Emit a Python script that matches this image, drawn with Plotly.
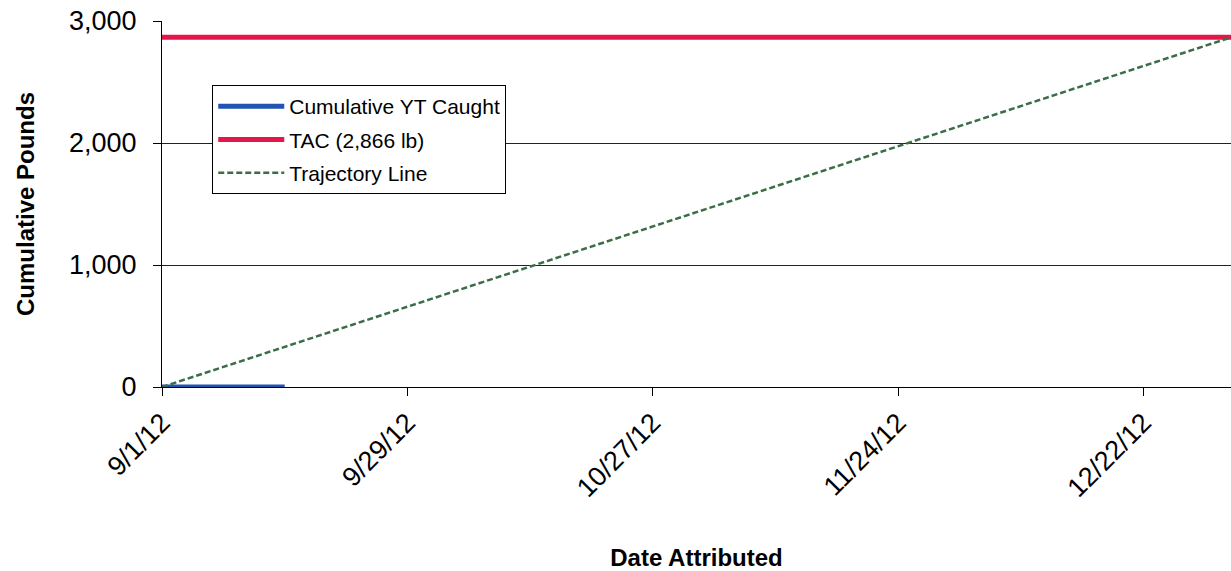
import plotly.graph_objects as go

# Data
caught_dates = ["2012-09-01", "2012-09-03", "2012-09-05", "2012-09-07", "2012-09-09",
                "2012-09-11", "2012-09-13", "2012-09-15"]
caught_values = [0, 0, 0, 0, 0, 0, 0, 0]

tac_dates = ["2012-09-01", "2013-01-01"]
tac_values = [2866, 2866]

traj_dates = ["2012-09-01", "2013-01-01"]
traj_values = [0, 2866]

tick_dates = ["2012-09-01", "2012-09-29", "2012-10-27", "2012-11-24", "2012-12-22"]
tick_labels = ["9/1/12", "9/29/12", "10/27/12", "11/24/12", "12/22/12"]

FONT = "Liberation Sans, Arial, sans-serif"

fig = go.Figure()
fig.add_trace(go.Scatter(x=caught_dates, y=caught_values, mode="lines",
                         name="Cumulative YT Caught", legendgroup="a",
                         line=dict(color="#2153B3", width=5)))
fig.add_trace(go.Scatter(x=tac_dates, y=tac_values, mode="lines",
                         name="TAC (2,866 lb)", legendgroup="b",
                         line=dict(color="#E5164C", width=5)))
fig.add_trace(go.Scatter(x=traj_dates, y=traj_values, mode="lines",
                         name="Trajectory Line", legendgroup="c",
                         line=dict(color="#3B6E47", width=2.5, dash="6px,3px")))

fig.update_layout(
    width=1231, height=571,
    margin=dict(l=162, r=0, t=21, b=184),
    paper_bgcolor="white", plot_bgcolor="white",
    font=dict(family=FONT, color="black"),
    showlegend=True,
    legend=dict(x=0.047, y=0.825, xanchor="left", yanchor="top",
                bgcolor="white", bordercolor="black", borderwidth=1,
                font=dict(size=21, family=FONT, color="black"),
                itemwidth=66, tracegroupgap=3),
    xaxis=dict(
        type="date",
        range=["2012-09-01", "2013-01-01"],
        tickvals=tick_dates, ticktext=tick_labels,
        tickangle=-45,
        tickfont=dict(size=27, family=FONT, color="black"),
        showgrid=False, zeroline=False,
        showline=True, linecolor="black", linewidth=1,
        ticks="outside", ticklen=8, tickcolor="black", tickwidth=1,
        title=dict(text="<b>Date Attributed</b>", font=dict(size=24, family=FONT, color="black"),
                   standoff=50),
        automargin=False,
    ),
    yaxis=dict(
        range=[0, 3000],
        tickvals=[0, 1000, 2000, 3000],
        tickformat=",",
        tickfont=dict(size=27, family=FONT, color="black"),
        ticklabelstandoff=11,
        showgrid=True, gridcolor="#222222", gridwidth=1,
        zeroline=False,
        showline=True, linecolor="black", linewidth=1,
        ticks="outside", ticklen=8, tickcolor="black", tickwidth=1,
        title=dict(text="<b>Cumulative Pounds</b>", font=dict(size=24, family=FONT, color="black"),
                   standoff=27),
        automargin=False,
    ),
)

fig.write_html("out.html", config={"displayModeBar": False},
               post_script="document.body.style.margin='0';")
